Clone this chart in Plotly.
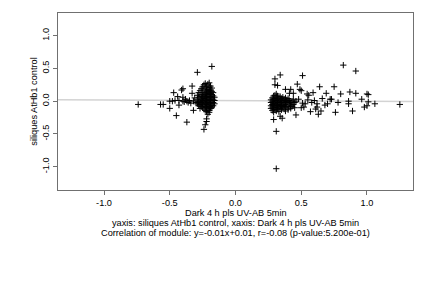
import plotly.graph_objects as go

# ---- data ----
left_outliers_x = [-0.74, -0.57, -0.55, -0.50, -0.50, -0.48, -0.47, -0.46, -0.45, -0.44, -0.43, -0.43,
                   -0.41, -0.40, -0.40, -0.40, -0.39, -0.38, -0.37, -0.37, -0.36, -0.35, -0.34, -0.33,
                   -0.33, -0.32, -0.32, -0.31, -0.30, -0.29, -0.18, -0.24, -0.23, -0.22, -0.21, -0.20, -0.22]
left_outliers_y = [-0.05, -0.05, -0.05, -0.11, 0.00, 0.00, 0.13, 0.01, -0.22, 0.07, -0.06, 0.01,
                   0.17, 0.19, 0.06, 0.00, -0.01, 0.03, -0.32, 0.00, -0.02, 0.01, -0.03, 0.23,
                   0.12, -0.14, 0.00, 0.05, -0.02, 0.44, 0.53, -0.43, -0.36, -0.27, -0.20, -0.14, -0.31]

left_blob = {
    -0.29: [0.02, -0.04, 0.09],
    -0.28: [0.05, -0.01, 0.13, -0.07],
    -0.27: [0.00, 0.07, -0.05, 0.16, -0.11],
    -0.26: [0.03, -0.02, 0.10, -0.08, 0.19],
    -0.25: [0.01, 0.06, -0.04, 0.13, -0.10, 0.22],
    -0.24: [0.04, -0.01, 0.09, -0.06, 0.17, -0.12, 0.25],
    -0.23: [0.02, 0.07, -0.03, 0.12, -0.08, 0.20, -0.14, 0.27],
    -0.22: [0.00, 0.05, -0.05, 0.10, -0.10, 0.15, -0.16, 0.23],
    -0.21: [0.03, 0.08, -0.02, 0.13, -0.07, 0.18, -0.12, 0.26],
    -0.20: [0.01, 0.06, -0.04, 0.11, -0.09, 0.16, -0.17, 0.21, 0.28],
    -0.19: [0.02, 0.07, -0.03, 0.12, -0.08, 0.17, -0.11, 0.23],
    -0.18: [0.00, 0.05, -0.06, 0.10, -0.10, 0.15, 0.20],
    -0.17: [0.03, -0.02, 0.08, -0.07, 0.13],
    -0.16: [0.01, 0.06, -0.04],
}

right_blob = {
    0.27: [-0.02, -0.07, 0.02, -0.11],
    0.28: [0.00, -0.05, 0.05, -0.09, -0.14],
    0.29: [-0.03, 0.03, -0.07, 0.08, -0.12, -0.17],
    0.30: [-0.01, -0.04, 0.04, -0.09, 0.09, -0.13],
    0.31: [0.01, -0.06, 0.06, -0.10, 0.11, -0.15],
    0.32: [-0.02, 0.03, -0.07, 0.08, -0.12],
    0.33: [0.00, -0.05, 0.05, -0.09, -0.16],
    0.34: [-0.02, 0.02, -0.07, 0.07, -0.11],
    0.35: [-0.01, -0.04, 0.04, -0.08, -0.13],
    0.36: [0.01, -0.06, 0.06, -0.10],
    0.37: [-0.02, 0.03, -0.07, -0.12],
    0.38: [0.00, -0.05, 0.05, -0.15],
    0.39: [-0.02, -0.08, 0.02],
    0.40: [-0.01, -0.10, 0.04, -0.13],
    0.41: [-0.04, 0.01],
    0.42: [-0.02, -0.07, -0.11],
    0.43: [0.00, -0.08],
    0.44: [-0.05, 0.03],
    0.45: [-0.02, -0.10],
    0.46: [0.00],
}

right_outliers_x = [0.82, 0.915, 0.34, 0.30, 0.51, 0.30, 0.32, 0.47, 0.59, 0.64, 0.75, 0.69, 0.80,
                    0.87, 0.915, 1.00, 1.01, 0.96, 1.06, 1.01, 0.98, 1.00, 0.89, 0.86, 0.86, 0.76,
                    0.78, 0.72, 0.73, 0.70, 0.68, 0.65, 0.63, 0.62, 0.61, 0.57, 0.62, 0.545, 0.557,
                    0.53, 0.52, 0.50, 0.46, 0.49, 0.50, 0.42, 0.44, 0.38, 0.41, 0.29, 0.31, 0.31,
                    0.355, 0.34, 1.25, 0.48, 0.55, 0.58, 0.66, 0.60, 0.51]
right_outliers_y = [0.55, 0.46, 0.40, 0.34, 0.39, 0.25, 0.24, 0.26, 0.13, 0.22, 0.22, 0.12, 0.11,
                    0.14, 0.12, 0.11, 0.10, 0.03, -0.04, -0.01, -0.09, -0.07, -0.15, -0.04, 0.00, -0.17,
                    -0.02, 0.03, 0.03, -0.04, -0.06, -0.15, -0.20, -0.09, -0.12, -0.16, -0.04, 0.11, 0.09,
                    -0.04, -0.09, -0.10, -0.21, 0.18, 0.16, 0.18, 0.12, 0.18, 0.12, -0.28, -0.46, -1.03,
                    -0.26, -0.23, -0.05, 0.03, 0.02, -0.02, 0.04, 0.01, -0.03]

slope = -0.01
intercept = 0.01
x_range = [-1.35, 1.35]
y_range = [-1.355, 1.345]
x_ticks = [-1.0, -0.5, 0.0, 0.5, 1.0]
y_ticks = [-1.0, -0.5, 0.0, 0.5, 1.0]
tick_text = ["-1.0", "-0.5", "0.0", "0.5", "1.0"]

xs = list(left_outliers_x) + list(right_outliers_x)
ys = list(left_outliers_y) + list(right_outliers_y)
for blob in (left_blob, right_blob):
    for bx, yl in blob.items():
        for by in yl:
            xs.append(bx)
            ys.append(by)

FONT = "Liberation Sans, Arial, Helvetica, sans-serif"
FS = 9.2

fig = go.Figure()
fig.add_trace(go.Scatter(
    x=x_range, y=[slope * v + intercept for v in x_range], mode="lines",
    line=dict(color="#d3d3d3", width=1.5), hoverinfo="skip", showlegend=False))
fig.add_trace(go.Scatter(
    x=xs, y=ys, mode="markers",
    marker=dict(symbol="cross-thin", size=4.5, line=dict(color="black", width=1), color="black"),
    showlegend=False))

axis_common = dict(showgrid=False, zeroline=False, showline=True, mirror=True,
                   linecolor="#707070", linewidth=1, ticks="outside", ticklen=4,
                   tickcolor="#707070", tickfont=dict(size=FS, family=FONT), fixedrange=True)

fig.update_layout(
    width=432, height=288,
    margin=dict(l=58, r=19, t=13, b=98),
    paper_bgcolor="white", plot_bgcolor="white",
    font=dict(family=FONT, size=FS, color="black"),
    xaxis=dict(range=x_range, tickvals=x_ticks, ticktext=tick_text, **axis_common),
    yaxis=dict(range=y_range, tickvals=y_ticks, ticktext=tick_text, tickangle=-90, **axis_common),
    annotations=[
        dict(text="Dark 4 h pls UV-AB 5min", xref="paper", yref="paper", x=0.5, y=-0.13,
             showarrow=False, xanchor="center", yanchor="middle", font=dict(size=FS)),
        dict(text="siliques AtHb1 control", xref="paper", yref="paper", x=-0.07, y=0.5,
             showarrow=False, textangle=-90, xanchor="center", yanchor="middle", font=dict(size=FS)),
        dict(text="yaxis: siliques AtHb1 control, xaxis: Dark 4 h pls UV-AB 5min",
             xref="paper", yref="paper", x=0.5, y=-0.187, showarrow=False,
             xanchor="center", yanchor="middle", font=dict(size=FS)),
        dict(text="Correlation of module: y=-0.01x+0.01, r=-0.08 (p-value:5.200e-01)",
             xref="paper", yref="paper", x=0.5, y=-0.243, showarrow=False,
             xanchor="center", yanchor="middle", font=dict(size=FS)),
    ],
)

fig.write_html("out.html")
